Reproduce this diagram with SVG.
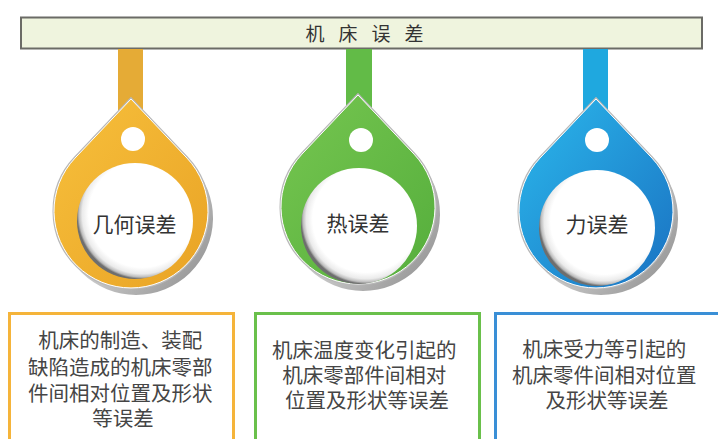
<svg xmlns="http://www.w3.org/2000/svg" width="718" height="439" viewBox="0 0 718 439">
  <style>
    .cjk { font-family: "Liberation Sans", "Noto Sans CJK SC", sans-serif; fill: #3a3a3a; }
    .title { font-size: 19px; fill: #333; }
    .label { font-size: 21px; text-anchor: middle; fill: #333; }
    .desc { font-size: 20.5px; text-anchor: middle; fill: #454545; }
    .box { fill: #ffffff; stroke-width: 3; }
  </style>
  <defs>
    <!-- teardrop: circle r=77 centred at origin, tip 112 above -->
    <path id="drop" d="M0,-112 L56,-52.9 A77,77 0 1 1 -56,-52.9 Z"/>
    <linearGradient id="rimGrad" x1="0" y1="0" x2="1" y2="1">
      <stop offset="0" stop-color="#f0f0f0"/>
      <stop offset="0.6" stop-color="#c4c4c4"/>
      <stop offset="1" stop-color="#8a8a8a"/>
    </linearGradient>
    <linearGradient id="orangeGrad" x1="0" y1="0" x2="1" y2="1">
      <stop offset="0" stop-color="#f7c03c"/>
      <stop offset="1" stop-color="#e9a325"/>
    </linearGradient>
    <linearGradient id="greenGrad" x1="0" y1="0" x2="1" y2="1">
      <stop offset="0" stop-color="#76c650"/>
      <stop offset="1" stop-color="#55ae3c"/>
    </linearGradient>
    <linearGradient id="blueGrad" x1="0" y1="0" x2="1" y2="1">
      <stop offset="0" stop-color="#2bb8ec"/>
      <stop offset="1" stop-color="#1a72c2"/>
    </linearGradient>
    <radialGradient id="faceGrad" cx="0.56" cy="0.44" r="0.56">
      <stop offset="0" stop-color="#ffffff"/>
      <stop offset="0.82" stop-color="#ffffff"/>
      <stop offset="0.92" stop-color="#ebebeb"/>
      <stop offset="0.97" stop-color="#bdbdbd"/>
      <stop offset="1" stop-color="#6e6e6e"/>
    </radialGradient>
  </defs>

  <!-- header bar -->
  <g id="header">
    <rect x="21" y="17.5" width="681" height="31" fill="#eff4de" stroke="#6b6b66" stroke-width="2"/>
    <text class="cjk title" text-anchor="middle" x="315 348 381 414" y="41">机床误差</text>
  </g>

  <!-- hanging stems from the header to each drop -->
  <g id="connectors">
    <rect x="118" y="49" width="25" height="70" fill="#e5ab36"/>
    <rect x="346" y="49" width="26" height="70" fill="#62bb47"/>
    <rect x="583" y="49" width="25" height="70" fill="#1fa8df"/>
  </g>

  <!-- geometric error -->
  <g id="node-geometric">
    <g transform="translate(131,211)">
      <use href="#drop" transform="translate(5,7)" fill="url(#rimGrad)"/>
      <use href="#drop" fill="none" stroke="#b8b8b8" stroke-width="3"/>
      <use href="#drop" fill="url(#orangeGrad)" stroke="#ffffff" stroke-width="1"/>
      <circle cx="2" cy="-72" r="12" fill="#ffffff"/>
      <circle cx="4" cy="10" r="58" fill="url(#faceGrad)"/>
    </g>
    <text class="cjk label" x="134.5" y="232">几何误差</text>
  </g>

  <!-- thermal error -->
  <g id="node-thermal">
    <g transform="translate(358,207)">
      <use href="#drop" transform="translate(5,7)" fill="url(#rimGrad)"/>
      <use href="#drop" fill="none" stroke="#b8b8b8" stroke-width="3"/>
      <use href="#drop" fill="url(#greenGrad)" stroke="#ffffff" stroke-width="1"/>
      <circle cx="3" cy="-67" r="12" fill="#ffffff"/>
      <circle cx="1" cy="19" r="58" fill="url(#faceGrad)"/>
    </g>
    <text class="cjk label" x="358" y="231">热误差</text>
  </g>

  <!-- force error -->
  <g id="node-force">
    <g transform="translate(596,211)">
      <use href="#drop" transform="translate(5,7)" fill="url(#rimGrad)"/>
      <use href="#drop" fill="none" stroke="#b8b8b8" stroke-width="3"/>
      <use href="#drop" fill="url(#blueGrad)" stroke="#ffffff" stroke-width="1"/>
      <circle cx="1" cy="-71" r="12" fill="#ffffff"/>
      <circle cx="1" cy="17" r="58" fill="url(#faceGrad)"/>
    </g>
    <text class="cjk label" x="597" y="232">力误差</text>
  </g>

  <!-- description boxes -->
  <g id="desc-geometric">
    <rect class="box" x="9.5" y="313.5" width="224" height="140" stroke="#f5b43a"/>
    <text class="cjk desc" x="123">
      <tspan x="123" y="348">机床的制造、装配</tspan>
      <tspan x="123" y="375">缺陷造成的机床零部</tspan>
      <tspan x="123" y="401">件间相对位置及形状</tspan>
      <tspan x="123" y="426">等误差</tspan>
    </text>
  </g>

  <g id="desc-thermal">
    <rect class="box" x="255.5" y="313.5" width="224" height="140" stroke="#6ac04b"/>
    <text class="cjk desc" x="367">
      <tspan x="367" y="358">机床温度变化引起的</tspan>
      <tspan x="367" y="383">机床零部件间相对</tspan>
      <tspan x="367" y="408">位置及形状等误差</tspan>
    </text>
  </g>

  <g id="desc-force">
    <rect class="box" x="495.5" y="313.5" width="232" height="140" stroke="#3a8fd6"/>
    <text class="cjk desc" x="607">
      <tspan x="607" y="357">机床受力等引起的</tspan>
      <tspan x="607" y="383">机床零件间相对位置</tspan>
      <tspan x="607" y="408">及形状等误差</tspan>
    </text>
  </g>
</svg>
